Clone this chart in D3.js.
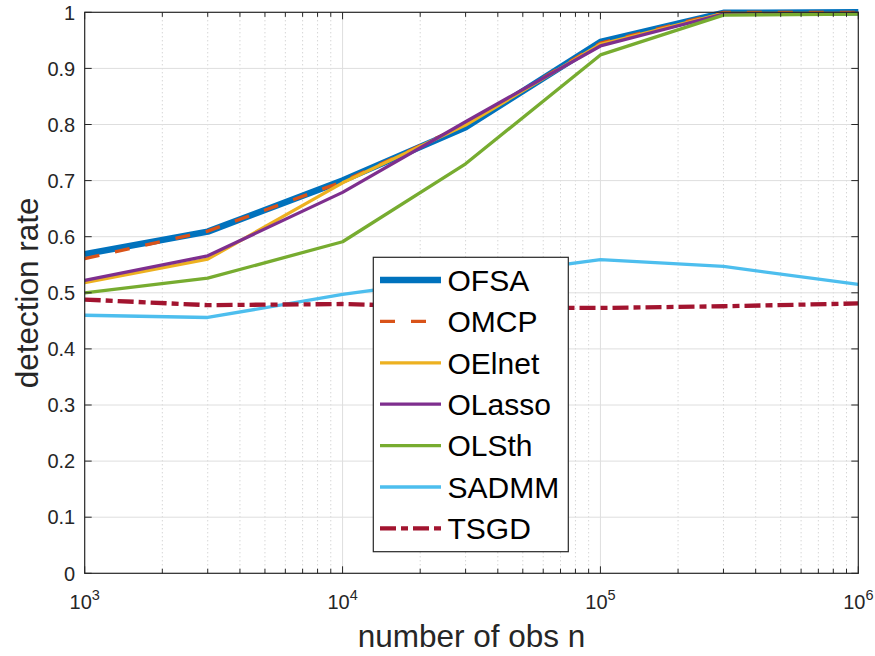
<!DOCTYPE html>
<html>
<head>
<meta charset="utf-8">
<script src="https://cdn.jsdelivr.net/npm/d3@7"></script>
<style>
    body { margin: 0; background: #fff; }
    text { font-family: 'Liberation Sans', Arial, sans-serif; fill: #262626; }
</style>
</head>
<body>
<div id="chart"></div>
<script>
const obs = [1e3, 3e3, 1e4, 3e4, 1e5, 3e5, 1e6]

const ofsa = [0.569, 0.609, 0.700, 0.795, 0.947, 0.999, 1.000]
const omcp = [0.561, 0.610, 0.698, 0.800, 0.945, 1.000, 1.000]
const oelnet = [0.518, 0.560, 0.696, 0.799, 0.943, 0.998, 0.998]
const olasso = [0.522, 0.566, 0.679, 0.805, 0.940, 0.997, 0.998]
const olsth = [0.500, 0.526, 0.591, 0.730, 0.924, 0.995, 0.997]
const sadmm = [0.460, 0.456, 0.497, 0.527, 0.559, 0.547, 0.515]
const tsgd = [0.488, 0.478, 0.480, 0.474, 0.473, 0.476, 0.481]

const yTicks = [0, 0.1, 0.2, 0.3, 0.4, 0.5, 0.6, 0.7, 0.8, 0.9, 1]
const xTicks = [1e3, 1e4, 1e5, 1e6]

const series = [
    { name: 'OFSA', values: ofsa, color: '#0072BD', width: 6.5, dash: null },
    { name: 'OMCP', values: omcp, color: '#D95319', width: 3.3, dash: '15,16' },
    { name: 'OElnet', values: oelnet, color: '#EDB120', width: 3.3, dash: null },
    { name: 'OLasso', values: olasso, color: '#7E2F8E', width: 3.3, dash: null },
    { name: 'OLSth', values: olsth, color: '#77AC30', width: 3.3, dash: null },
    { name: 'SADMM', values: sadmm, color: '#4DBEEE', width: 3.3, dash: null },
    { name: 'TSGD', values: tsgd, color: '#A2142F', width: 4.3, dash: '16,5,7,5' }
]

const width = 875
const height = 656
const plot = { left: 84.7, right: 858.3, top: 12.3, bottom: 573.3 }

const svg = d3.select('#chart')
    .append('svg')
        .attr('width', width)
        .attr('height', height)

const x = d3.scaleLog()
    .domain([1e3, 1e6])
    .range([plot.left, plot.right])

const y = d3.scaleLinear()
    .domain([0, 1])
    .range([plot.bottom, plot.top])

// minor positions 2..9 in every decade
const minorTicks = []
for (let d = 1e3; d < 1e6; d *= 10) {
    for (let k = 2; k <= 9; k++) minorTicks.push(d * k)
}

// grid
svg.append('g')
    .selectAll('line')
    .data(minorTicks)
    .enter()
    .append('line')
        .attr('x1', d => x(d))
        .attr('x2', d => x(d))
        .attr('y1', plot.top)
        .attr('y2', plot.bottom)
        .attr('stroke', '#c4c4c4')
        .attr('stroke-width', 1)
        .attr('stroke-dasharray', '1,3')

svg.append('g')
    .selectAll('line')
    .data(xTicks.slice(1, -1))
    .enter()
    .append('line')
        .attr('x1', d => x(d))
        .attr('x2', d => x(d))
        .attr('y1', plot.top)
        .attr('y2', plot.bottom)
        .attr('stroke', '#dedede')
        .attr('stroke-width', 1)

svg.append('g')
    .selectAll('line')
    .data(yTicks.slice(1, -1))
    .enter()
    .append('line')
        .attr('x1', plot.left)
        .attr('x2', plot.right)
        .attr('y1', d => y(d))
        .attr('y2', d => y(d))
        .attr('stroke', '#dedede')
        .attr('stroke-width', 1)

// series lines
const line = d3.line()
    .x((d, i) => x(obs[i]))
    .y(d => y(d))

svg.append('g')
    .selectAll('path')
    .data(series)
    .enter()
    .append('path')
        .attr('d', d => line(d.values))
        .attr('fill', 'none')
        .attr('stroke', d => d.color)
        .attr('stroke-width', d => d.width)
        .attr('stroke-dasharray', d => d.dash)
        .attr('stroke-linejoin', 'round')

// axes box with inward ticks
const axisColor = '#262626'
const box = svg.append('g')

box.append('rect')
    .attr('x', plot.left)
    .attr('y', plot.top)
    .attr('width', plot.right - plot.left)
    .attr('height', plot.bottom - plot.top)
    .attr('fill', 'none')
    .attr('stroke', axisColor)
    .attr('stroke-width', 1.2)

const xTickLines = xTicks.map(d => ({ v: d, len: 7 }))
    .concat(minorTicks.map(d => ({ v: d, len: 4.5 })))

box.selectAll('.xt')
    .data(xTickLines)
    .enter()
    .append('path')
        .attr('d', d => `M${x(d.v)},${plot.bottom}v${-d.len}M${x(d.v)},${plot.top}v${d.len}`)
        .attr('stroke', axisColor)
        .attr('stroke-width', 1)

box.selectAll('.yt')
    .data(yTicks)
    .enter()
    .append('path')
        .attr('d', d => `M${plot.left},${y(d)}h7M${plot.right},${y(d)}h-7`)
        .attr('stroke', axisColor)
        .attr('stroke-width', 1)

// tick labels
svg.append('g')
    .selectAll('text')
    .data(yTicks)
    .enter()
    .append('text')
        .attr('x', plot.left - 9.5)
        .attr('y', d => y(d))
        .attr('dy', '0.36em')
        .attr('text-anchor', 'end')
        .style('font-size', '20px')
        .text(d => d3.format('~g')(d))

const xLabels = svg.append('g')
    .selectAll('text')
    .data(xTicks)
    .enter()
    .append('text')
        .attr('x', d => x(d))
        .attr('y', 608.5)
        .attr('text-anchor', 'middle')
        .style('font-size', '20px')

xLabels.append('tspan').text('10')
xLabels.append('tspan')
    .attr('dy', -8.5)
    .style('font-size', '14.5px')
    .text(d => Math.round(Math.log10(d)))

// axis titles
svg.append('text')
    .attr('x', (plot.left + plot.right) / 2)
    .attr('y', 647)
    .attr('text-anchor', 'middle')
    .style('font-size', '31.5px')
    .text('number of obs n')

svg.append('text')
    .attr('transform', `translate(38, ${(plot.top + plot.bottom) / 2}) rotate(-90)`)
    .attr('text-anchor', 'middle')
    .style('font-size', '31.5px')
    .text('detection rate')

// legend
const legend = { x: 373.3, y: 257.3, w: 195, h: 294.4, row0: 280, rowStep: 41.4 }

const lg = svg.append('g')

lg.append('rect')
    .attr('x', legend.x)
    .attr('y', legend.y)
    .attr('width', legend.w)
    .attr('height', legend.h)
    .attr('fill', '#fff')
    .attr('stroke', axisColor)
    .attr('stroke-width', 1.2)

const rows = lg.selectAll('.row')
    .data(series)
    .enter()
    .append('g')
        .attr('transform', (d, i) => `translate(0, ${legend.row0 + i * legend.rowStep})`)

rows.append('line')
    .attr('x1', 380)
    .attr('x2', 441)
    .attr('stroke', d => d.color)
    .attr('stroke-width', d => d.width)
    .attr('stroke-dasharray', d => d.dash)

rows.append('text')
    .attr('x', 447.5)
    .attr('dy', '0.36em')
    .style('font-size', '30px')
    .style('fill', '#000')
    .text(d => d.name)
</script>
</body>
</html>
